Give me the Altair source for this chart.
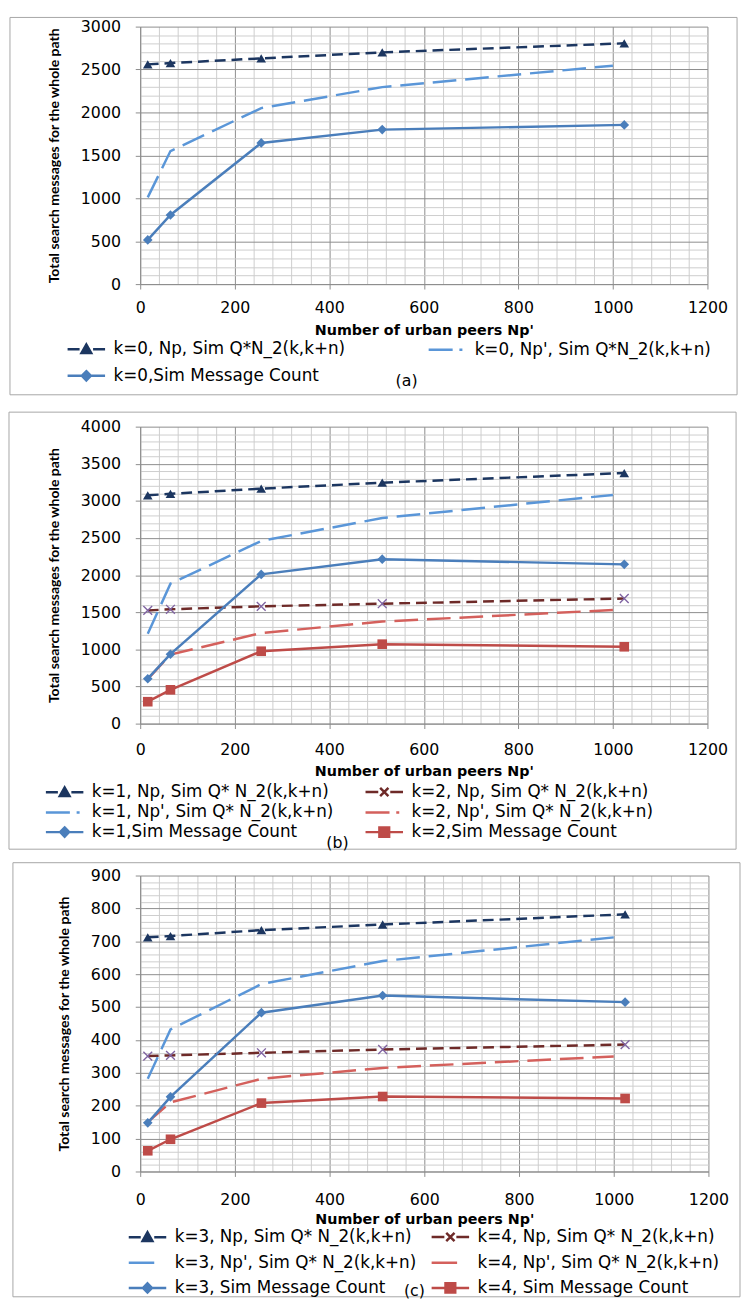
import altair as alt
import pandas as pd

# ---------------- data ----------------
X = [16, 64, 256, 512, 1024]
XP = [16, 64, 256, 512, 1000]

A_NP0 = [2560, 2575, 2630, 2700, 2805]
A_NPP0 = [1010, 1550, 2050, 2295, 2545]
A_SIM0 = [515, 805, 1645, 1800, 1855]

B_NP1 = [3075, 3095, 3165, 3245, 3375]
B_NPP1 = [1210, 1885, 2460, 2770, 3080]
B_SIM1 = [605, 935, 2010, 2215, 2145]
B_NP2 = [1525, 1540, 1580, 1615, 1685]
B_NPP2 = [600, 930, 1220, 1375, 1530]
B_SIM2 = [295, 455, 975, 1070, 1035]

C_NP3 = [712, 716, 734, 751, 782]
C_NPP3 = [282, 432, 570, 640, 712]
C_SIM3 = [148, 227, 483, 535, 515]
C_NP4 = [351, 353, 361, 371, 386]
C_NPP4 = [150, 210, 282, 315, 350]
C_SIM4 = [63, 98, 208, 228, 222]

LABELS_A = ["k=0, Np, Sim Q*N_2(k,k+n)", "k=0, Np', Sim Q*N_2(k,k+n)",
            "k=0,Sim Message Count"]
LABELS_B = ["k=1, Np, Sim Q* N_2(k,k+n)", "k=2, Np, Sim Q* N_2(k,k+n)",
            "k=1, Np', Sim Q* N_2(k,k+n)", "k=2, Np', Sim Q* N_2(k,k+n)",
            "k=1,Sim Message Count", "k=2,Sim Message Count"]
LABELS_C = ["k=3, Np, Sim Q* N_2(k,k+n)", "k=4, Np, Sim Q* N_2(k,k+n)",
            "k=3, Np', Sim Q* N_2(k,k+n)", "k=4, Np', Sim Q* N_2(k,k+n)",
            "k=3, Sim Message Count", "k=4, Sim Message Count"]

X_TITLE = "Number of urban peers Np'"
Y_TITLE = "Total search messages for the whole path"

# ---------------- styles ----------------
NAVY = "#1C3660"
LBLUE = "#5A96D8"
BLUE = "#4A7EBB"
DRED = "#6E2A28"
LRED = "#D4605C"
RED = "#BE4B48"
PURPLE = "#8064A2"
MAJOR = "#8c8c8c"
MINOR = "#cdcdcd"
TXT = "DejaVu Sans"

TRI = "M0.85,0.5L1.5,-0.65L2.15,0.5Z"
DIA = "M1.5,-0.62L2.1,0L1.5,0.62L0.9,0Z"
SQ = "M0.85,-0.62H2.15V0.62H0.85Z"
XX = "M0.95,-0.55L2.05,0.55M0.95,0.55L2.05,-0.55"
XPATH = "M-1,-1L1,1M-1,1L1,-1"

STYLE = {
    "np_b": dict(color=NAVY, dash=[11, 6], marker="triangle-up", mcolor=NAVY, filled=True,
                 leg="M-1,0H0.6M2.4,0H4" + TRI),
    "npp_b": dict(color=LBLUE, dash=[24, 9], marker=None, leg="M-1,0H2.2M3.1,0H3.5"),
    "sim_b": dict(color=BLUE, dash=None, marker="diamond", mcolor=BLUE, filled=True,
                  leg="M-1,0H4" + DIA),
    "np_r": dict(color=DRED, dash=[11, 6], marker=XPATH, mcolor=PURPLE, filled=False,
                 leg="M-1,0H0.7M2.3,0H4" + XX),
    "npp_r": dict(color=LRED, dash=[24, 9], marker=None, leg="M-1,0H2.2M3.1,0H3.5"),
    "sim_r": dict(color=RED, dash=None, marker="square", mcolor=RED, filled=True,
                  leg="M-1,0H4" + SQ),
}


def x_axis(lab_pad, title_pad):
    return alt.Axis(
        values=list(range(0, 1201, 40)), format="d",
        labelExpr="datum.value % 200 === 0 ? datum.label : ''",
        grid=True,
        gridColor={"condition": {"test": "datum.value % 200 === 0", "value": MAJOR}, "value": MINOR},
        gridWidth=1,
        tickOpacity={"condition": {"test": "datum.value % 200 === 0", "value": 1}, "value": 0},
        tickSize=5, tickColor=MAJOR, domainColor=MAJOR,
        labelFont=TXT, labelFontSize=16, labelColor="black", labelPadding=lab_pad,
        labelFlush=False, labelOverlap=False,
        title=X_TITLE, titleFont=TXT, titleFontSize=14.5, titleFontWeight="bold",
        titleColor="black", titlePadding=title_pad,
    )


def y_axis(ymax, major, minor):
    return alt.Axis(
        values=list(range(0, ymax + 1, minor)), format="d",
        labelExpr=f"datum.value % {major} === 0 ? datum.label : ''",
        grid=True,
        gridColor={"condition": {"test": f"datum.value % {major} === 0", "value": MAJOR}, "value": MINOR},
        gridWidth=1,
        tickOpacity={"condition": {"test": f"datum.value % {major} === 0", "value": 1}, "value": 0},
        tickSize=5, tickColor=MAJOR, domainColor=MAJOR,
        labelFont=TXT, labelFontSize=16, labelColor="black", labelPadding=15,
        labelOverlap=False,
        title=Y_TITLE, titleFont="Lato", titleFontSize=14.2, titleFontWeight="bold",
        titleColor="black", titlePadding=19,
    )


def panel(field, series, legend_order, ymax, major, minor, w, h, box, tag, tag_pos, leg_pos,
          lab_pad, title_pad, npp_leg=None):
    frames = []
    for name, xs, ys, kind in series:
        frames.append(pd.DataFrame({"x": xs, "y": ys, field: name}))
    df = pd.concat(frames, ignore_index=True)

    xenc = alt.X("x:Q", scale=alt.Scale(domain=[0, 1200], nice=False, zero=True),
                 axis=x_axis(lab_pad, title_pad))
    yenc = alt.Y("y:Q", scale=alt.Scale(domain=[0, ymax], nice=False, zero=True),
                 axis=y_axis(ymax, major, minor))

    one = alt.Data(values=[{"k": 1}])
    layers = [
        alt.Chart(one).mark_rect(fillOpacity=0, stroke="#a6a6a6", strokeWidth=1).encode(
            x=alt.value(box[0]), x2=alt.value(box[1]), y=alt.value(box[2]), y2=alt.value(box[3]))
    ]
    base = alt.Chart(df)
    order = sorted(series, key=lambda s: 0 if STYLE[s[3]]["dash"] else 1)
    for name, xs, ys, kind in order:
        st = STYLE[kind]
        kw = dict(color=st["color"], strokeWidth=2.5)
        if st["dash"]:
            kw["strokeDash"] = st["dash"]
        layers.append(base.transform_filter(alt.datum[field] == name).mark_line(**kw).encode(
            x=xenc, y=yenc))
    for name, xs, ys, kind in series:
        st = STYLE[kind]
        if st["marker"]:
            if st["filled"]:
                mk = dict(shape=st["marker"], filled=True, color=st["mcolor"], size=95, opacity=1)
            else:
                mk = dict(shape=st["marker"], filled=False, color=st["mcolor"], size=80,
                          strokeWidth=1.4, opacity=1)
            layers.append(base.transform_filter(alt.datum[field] == name).mark_point(**mk).encode(
                x=xenc, y=yenc))

    # legend entries (Vega fills the legend grid column by column)
    ordered = [series[i] for i in legend_order]
    names = [s[0] for s in ordered]
    colors = [STYLE[s[3]]["color"] for s in ordered]
    paths = []
    for s in ordered:
        p = STYLE[s[3]]["leg"]
        if npp_leg and s[3].startswith("npp"):
            p = npp_leg
        paths.append(p)
    leg = alt.Legend(title=None, orient="none", legendX=leg_pos[0], legendY=leg_pos[1],
                     columns=2, columnPadding=leg_pos[2], rowPadding=leg_pos[3], padding=0,
                     symbolSize=231, symbolStrokeWidth=2.5, labelFont=TXT, labelFontSize=17,
                     labelColor="black", labelLimit=600, labelOffset=30)
    fdef = f"{field}:N"
    layers.append(base.transform_filter("false").mark_point(filled=True, opacity=1).encode(
        fill=alt.Fill(fdef, scale=alt.Scale(domain=names, range=colors), legend=leg),
        stroke=alt.Stroke(fdef, scale=alt.Scale(domain=names, range=colors), legend=leg),
        shape=alt.Shape(fdef, scale=alt.Scale(domain=names, range=paths), legend=leg),
    ))
    layers.append(alt.Chart(one).mark_text(text=tag, font=TXT, fontSize=16, color="black",
                                             align="center", baseline="middle").encode(
        x=alt.value(tag_pos[0]), y=alt.value(tag_pos[1])))
    return alt.layer(*layers).properties(width=w, height=h)


pa = panel(
    "sa",
    [(LABELS_A[0], X, A_NP0, "np_b"), (LABELS_A[1], XP, A_NPP0, "npp_b"),
     (LABELS_A[2], X, A_SIM0, "sim_b")],
    [0, 2, 1],
    3000, 500, 100, 575, 261, (-132, 605, -9.3, 373.2), "(a)", (270, 359),
    (-75, 318, 79, 8), 11, 8)

pb = panel(
    "sb",
    [(LABELS_B[0], X, B_NP1, "np_b"), (LABELS_B[1], X, B_NP2, "np_r"),
     (LABELS_B[2], XP, B_NPP1, "npp_b"), (LABELS_B[3], XP, B_NPP2, "npp_r"),
     (LABELS_B[4], X, B_SIM1, "sim_b"), (LABELS_B[5], X, B_SIM2, "sim_r")],
    [0, 2, 4, 1, 3, 5],
    4000, 500, 100, 575, 301, (-133, 604, -14.7, 428.3), "(b)", (200, 422),
    (-97, 361, 27, 2), 13.5, 7)

pc = panel(
    "sc",
    [(LABELS_C[0], X, C_NP3, "np_b"), (LABELS_C[1], X, C_NP4, "np_r"),
     (LABELS_C[2], XP, C_NPP3, "npp_b"), (LABELS_C[3], XP, C_NPP4, "npp_r"),
     (LABELS_C[4], X, C_SIM3, "sim_b"), (LABELS_C[5], X, C_SIM4, "sim_r")],
    [0, 2, 4, 1, 3, 5],
    900, 100, 20, 576, 300, (-129, 608, -13, 427), "(c)", (278, 421),
    (-13, 357, 10, 7.5), 15.5, 5, npp_leg="M-1,0H2.4")

chart = alt.vconcat(
    pa, alt.vconcat(pb, pc, spacing=11).resolve_scale(fill="independent", stroke="independent",
                                                      shape="independent"),
    spacing=15.5
).resolve_scale(fill="independent", stroke="independent", shape="independent").properties(
    padding=0, background="white"
).configure_view(stroke=None)

chart.save("out.html", embed_options={"renderer": "svg", "actions": False})
